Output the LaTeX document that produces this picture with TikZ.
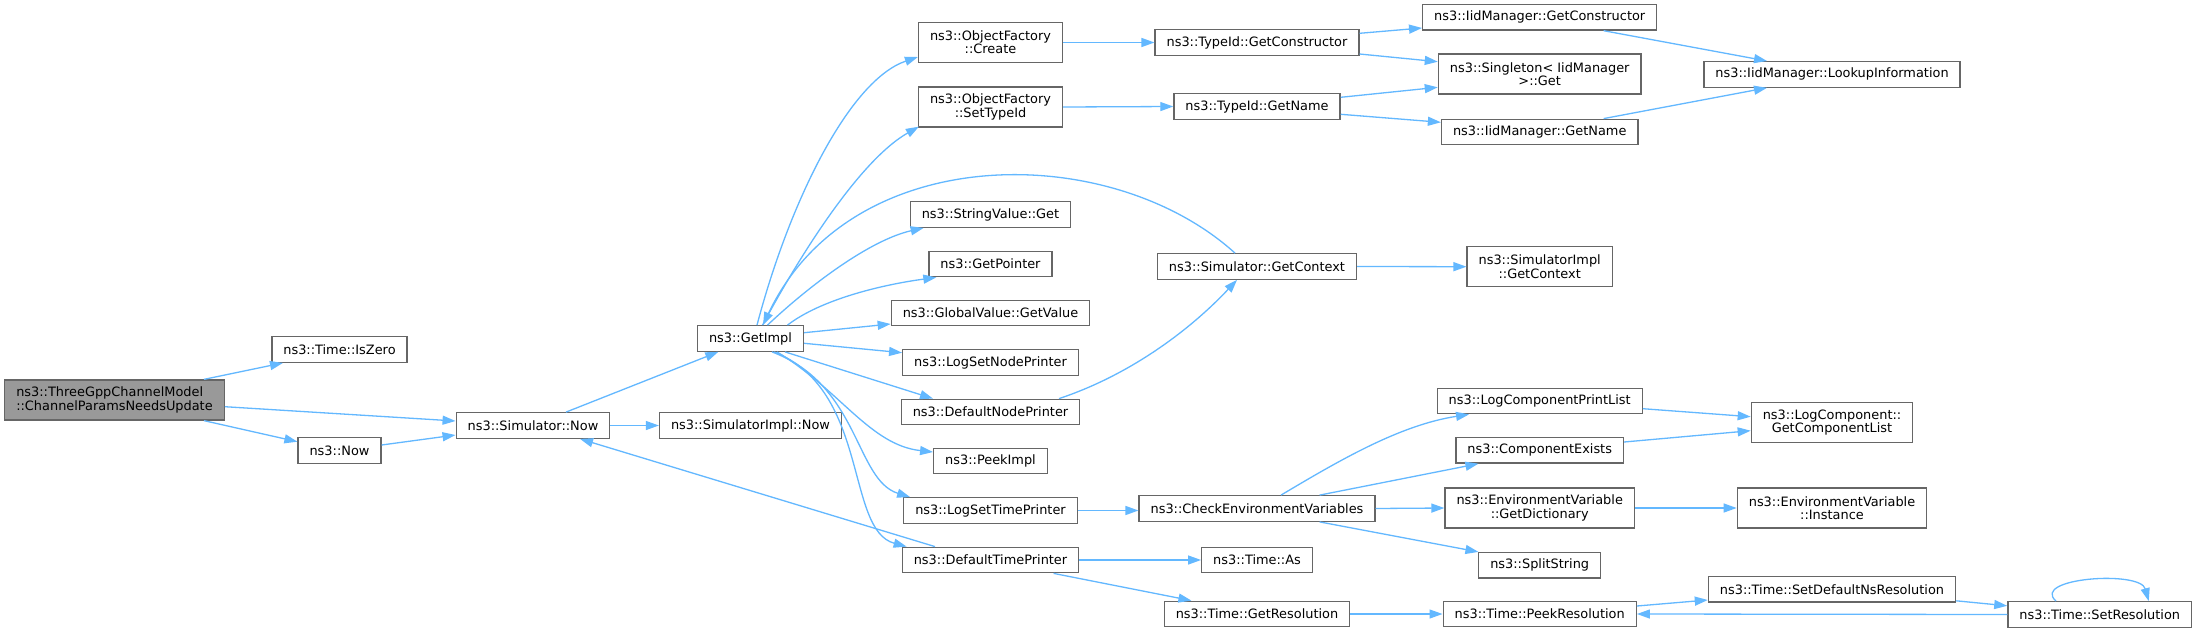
\documentclass[tikz,border=0pt]{standalone}
\usepackage{fontspec}
\setmainfont{DejaVu Sans}
\usetikzlibrary{arrows.meta,calc}
\definecolor{edgeblue}{HTML}{63B8FF}
\definecolor{boxgray}{HTML}{666666}
\definecolor{rootfill}{HTML}{999999}
\begin{document}
\begin{tikzpicture}[x=1pt,y=-1pt,
 box/.style={draw=boxgray, line width=1.3pt, fill=white, inner xsep=11.5pt, inner ysep=0pt,
   minimum height=25.5pt, font=\fontsize{12.9}{13.33}\selectfont, align=center, text=black},
 dbl/.style={minimum height=40pt},
 rootbox/.style={box, dbl, fill=rootfill, align=left},
 call/.style={draw=edgeblue, line width=1.3pt, -{Triangle[length=13pt,width=9pt]}},
]
\fill[white] (0,0) rectangle (2197,632);
\useasboundingbox (0,0) rectangle (2197,632);

% column 0-3
\node[rootbox] (root) at (114.5,400) {ns3::ThreeGppChannelModel\\::ChannelParamsNeedsUpdate};
\node[box] (iszero) at (339.5,349.5) {ns3::Time::IsZero};
\node[box] (now) at (339.5,450.5) {ns3::Now};
\node[box] (simnow) at (533,425.5) {ns3::Simulator::Now};
\node[box] (simimplnow) at (750.5,425.5) {ns3::SimulatorImpl::Now};
\node[box] (getimpl) at (750.5,338.5) {ns3::GetImpl};
% column 4
\node[box,dbl] (ofcreate) at (990.5,42.5) {ns3::ObjectFactory\\::Create};
\node[box,dbl] (ofsettype) at (990.5,107) {ns3::ObjectFactory\\::SetTypeId};
\node[box] (strget) at (990.5,214.5) {ns3::StringValue::Get};
\node[box] (getptr) at (990.5,264) {ns3::GetPointer};
\node[box] (gvget) at (990.5,313) {ns3::GlobalValue::GetValue};
\node[box] (lsnp) at (990.5,362.5) {ns3::LogSetNodePrinter};
\node[box] (dnp) at (990.5,412) {ns3::DefaultNodePrinter};
\node[box] (peek) at (990.5,461) {ns3::PeekImpl};
\node[box] (lstp) at (990.5,510.5) {ns3::LogSetTimePrinter};
\node[box] (dtp) at (990.5,560) {ns3::DefaultTimePrinter};
% column 5
\node[box] (tidctor) at (1257,42.5) {ns3::TypeId::GetConstructor};
\node[box] (tidname) at (1257,106.5) {ns3::TypeId::GetName};
\node[box] (simctx) at (1257,266.5) {ns3::Simulator::GetContext};
\node[box] (cev) at (1257,508.5) {ns3::CheckEnvironmentVariables};
\node[box] (timeas) at (1257,560) {ns3::Time::As};
\node[box] (getres) at (1257,614) {ns3::Time::GetResolution};
% column 6
\node[box] (iidctor) at (1539.7,17.3) {ns3::IidManager::GetConstructor};
\node[box,dbl] (singleton) at (1539.7,74) {ns3::Singleton< IidManager\\ >::Get};
\node[box] (iidname) at (1539.7,132) {ns3::IidManager::GetName};
\node[box,dbl] (simimplctx) at (1539.7,266.7) {ns3::SimulatorImpl\\::GetContext};
\node[box] (lcpl) at (1539.7,401) {ns3::LogComponentPrintList};
\node[box] (compex) at (1539.7,450.3) {ns3::ComponentExists};
\node[box,dbl] (getdict) at (1539.7,508) {ns3::EnvironmentVariable\\::GetDictionary};
\node[box] (split) at (1539.7,565.3) {ns3::SplitString};
\node[box] (peekres) at (1539.7,614) {ns3::Time::PeekResolution};
% column 7-8
\node[box] (lookup) at (1832,74.4) {ns3::IidManager::LookupInformation};
\node[box,dbl] (gcl) at (1832,422.7) {ns3::LogComponent::\\GetComponentList};
\node[box,dbl] (envinst) at (1832,508) {ns3::EnvironmentVariable\\::Instance};
\node[box] (setdefns) at (1832,589.3) {ns3::Time::SetDefaultNsResolution};
\node[box] (setres) at (2099.7,614.5) {ns3::Time::SetResolution};

% edges
\draw[call] ($(root.north)+(89.5,0)$) -- ($(iszero.south)+(-56.5,0)$);
\draw[call] ($(root.east)+(0,6.7)$) -- ($(simnow.west)+(0,-4.5)$);
\draw[call] ($(root.south)+(89.5,0)$) -- ($(now.west)+(0,-8.8)$);
\draw[call] ($(now.east)+(0,-5.5)$) -- ($(simnow.west)+(0,9.5)$);
\draw[call] ($(simnow.north)+(33,0)$) -- ($(getimpl.south)+(-32.2,0)$);
\draw[call] (simnow.east) -- (simimplnow.west);

\draw[call] ($(getimpl.north)+(6.5,0)$) .. controls (790,200) and (850,80) .. ($(ofcreate.west)+(0,14.5)$);
\draw[call] ($(getimpl.north)+(12,0)$) .. controls (800,255) and (860,160) .. ($(ofsettype.south west)+(1,-1)$);
\draw[call] ($(getimpl.north)+(17,0)$) .. controls (810,285) and (870,240) .. ($(strget.south west)+(14,0)$);
\draw[call] ($(getimpl.north)+(37,0)$) .. controls (820,300) and (880,285) .. ($(getptr.south west)+(8,0)$);
\draw[call] ($(getimpl.east)+(0,-5.8)$) -- ($(gvget.west)+(0,11)$);
\draw[call] ($(getimpl.east)+(0,4.8)$) -- ($(lsnp.west)+(0,-9.8)$);
\draw[call] ($(getimpl.south)+(34.5,0)$) -- ($(dnp.north)+(-57.5,0)$);
\draw[call] ($(getimpl.south)+(26.5,0)$) .. controls (840,390) and (870,445) .. ($(peek.west)+(0,-9)$);
\draw[call] ($(getimpl.south)+(21.5,0)$) .. controls (860,385) and (855,480) .. ($(lstp.north west)+(7,0)$);
\draw[call] ($(getimpl.south)+(23.5,0)$) .. controls (870,390) and (845,530) .. ($(dtp.north west)+(5,0)$);

\draw[call] ($(simctx.north)+(-22,0)$) .. controls (1110,140) and (850,140) .. ($(getimpl.north)+(12.5,0)$);
\draw[call] ($(dnp.north)+(68.5,0)$) .. controls (1130,375) and (1190,330) .. ($(simctx.south)+(-20,0)$);
\draw[call] ($(dtp.north)+(-55.5,0)$) -- ($(simnow.south)+(47,0)$);

\draw[call] (ofcreate.east) -- (tidctor.west);
\draw[call] (ofsettype.east) -- (tidname.west);
\draw[call] ($(tidctor.east)+(0,-9.2)$) -- ($(iidctor.west)+(0,10.7)$);
\draw[call] ($(tidctor.east)+(0,11.5)$) -- ($(singleton.west)+(0,-12.3)$);
\draw[call] ($(tidname.east)+(0,-9.2)$) -- ($(singleton.west)+(0,13.3)$);
\draw[call] ($(tidname.east)+(0,7.8)$) -- ($(iidname.west)+(0,-9.7)$);
\draw[call] ($(iidctor.south)+(63.9,0)$) -- ($(lookup.north)+(-65,0)$);
\draw[call] ($(iidname.north)+(63.9,0)$) -- ($(lookup.south)+(-65,0)$);
\draw[call] (simctx.east) -- (simimplctx.west);

\draw[call] (lstp.east) -- ($(cev.west)+(0,2)$);
\draw[call] ($(cev.north)+(24,0)$) .. controls (1340,460) and (1400,425) .. ($(lcpl.south)+(-70.7,0)$);
\draw[call] ($(cev.north)+(62.6,0)$) -- ($(compex.south)+(-61.3,0)$);
\draw[call] (cev.east) -- (getdict.west);
\draw[call] ($(cev.south)+(62.6,0)$) -- ($(split.north)+(-61.3,0)$);
\draw[call] ($(lcpl.east)+(0,7.7)$) -- ($(gcl.west)+(0,-6)$);
\draw[call] ($(compex.east)+(0,-8.3)$) -- ($(gcl.west)+(0,8)$);
\draw[call] (getdict.east) -- (envinst.west);

\draw[call] (dtp.east) -- (timeas.west);
\draw[call] ($(dtp.south)+(63.1,0)$) -- ($(getres.north)+(-65.6,0)$);
\draw[call] (getres.east) -- (peekres.west);
\draw[call] ($(peekres.east)+(0,-8)$) -- ($(setdefns.west)+(0,10.7)$);
\draw[call] ($(setdefns.east)+(0,11.5)$) -- ($(setres.west)+(0,-8.7)$);
\draw[call] (setres.west) -- (peekres.east);
\draw[call] ($(setres.north)+(-43.7,0)$) .. controls (2030,578) and (2140,570) .. ($(setres.north)+(49,0)$);
\end{tikzpicture}
\end{document}
